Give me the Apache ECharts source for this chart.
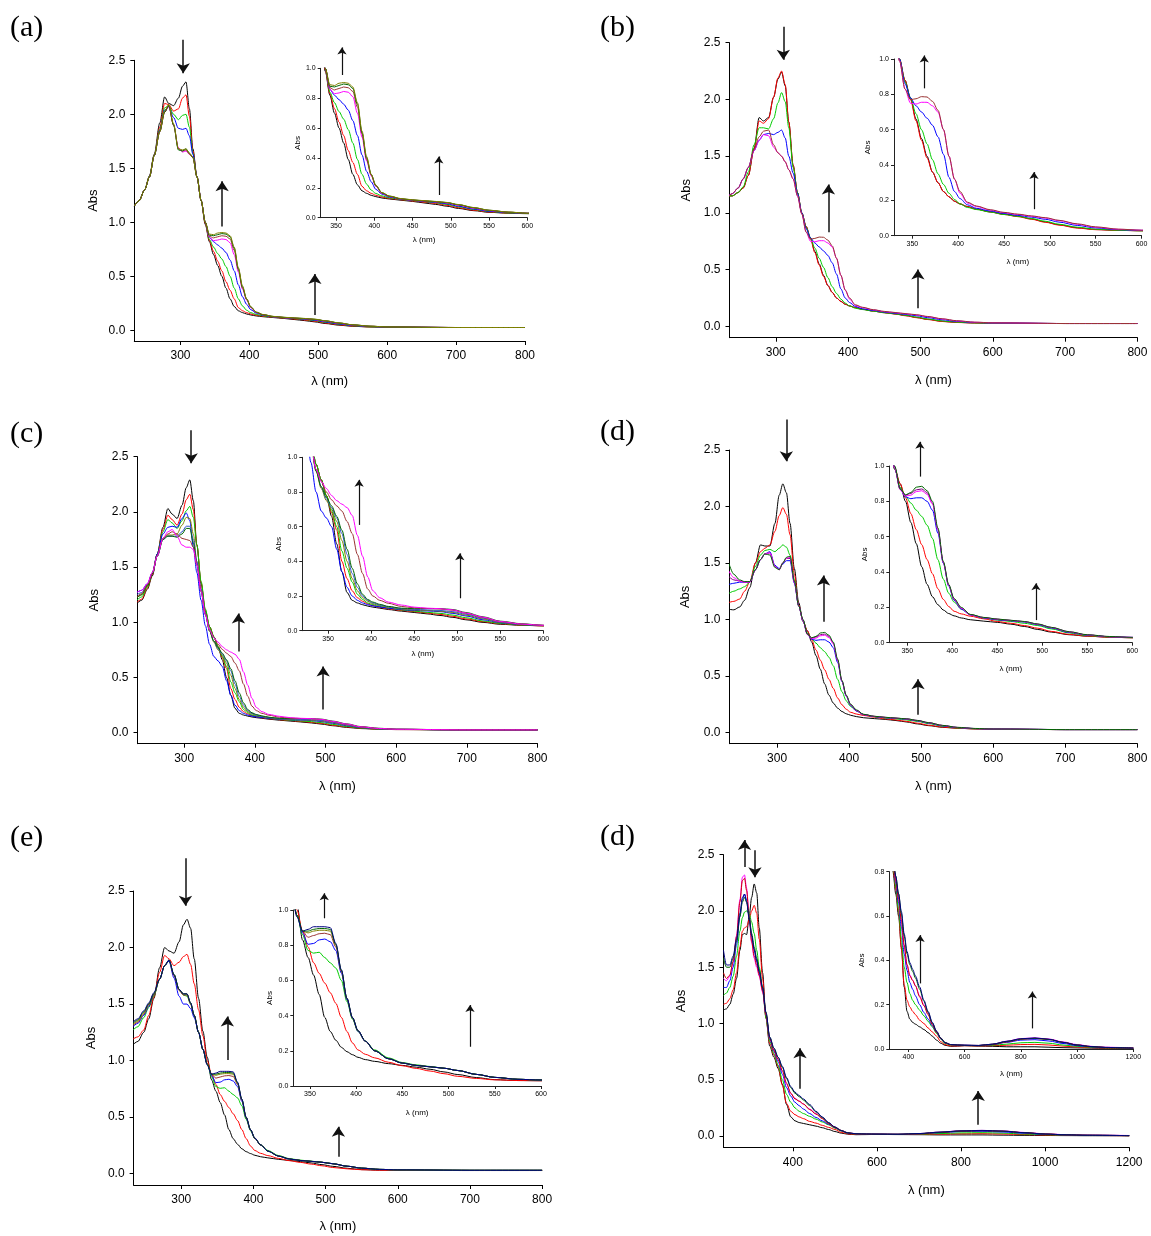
<!DOCTYPE html>
<html><head><meta charset="utf-8">
<script src="https://cdn.jsdelivr.net/npm/echarts@6/dist/echarts.min.js"></script>
<style>html,body{margin:0;padding:0;background:#fff}#c{width:1151px;height:1236px}</style>
</head><body><div id="c"></div>
<script>
// ---------- tick values ----------
const mainYTicks = [0, 0.5, 1, 1.5, 2, 2.5];
const mainXTicks = [300, 400, 500, 600, 700, 800];
const fMainXTicks = [400, 600, 800, 1000, 1200];
const insetYTicks = [0, 0.2, 0.4, 0.6, 0.8, 1.0];
const insetXTicks = [350, 400, 450, 500, 550, 600];
const fInsetYTicks = [0, 0.2, 0.4, 0.6, 0.8];
const fInsetXTicks = [400, 600, 800, 1000, 1200];

// ---------- wavelengths (nm) ----------
const wl = [233,240,248,255,262,270,277,283,290,297,303,308,313,318,324,330,336,342,348,354,360,366,372,378,384,390,396,402,410,420,435,450,465,480,495,510,530,550,575,600,700,800];
const wlF = [235,242,250,258,266,274,280,285,290,296,302,308,314,320,328,336,345,355,365,375,385,395,405,415,425,440,455,470,485,500,515,530,550,575,600,650,700,750,800,850,900,950,1000,1050,1100,1200];

// ---------- panel (a) ----------
const a_black   = [1.15,1.2,1.3,1.43,1.63,1.92,2.16,2.1,2.08,2.15,2.26,2.3,2.05,1.68,1.42,1.2,0.98,0.82,0.7,0.6,0.5,0.39,0.29,0.22,0.18,0.163,0.15,0.141,0.132,0.125,0.117,0.109,0.099,0.089,0.077,0.062,0.047,0.036,0.03,0.027,0.025,0.025];
const a_red     = [1.15,1.2,1.3,1.42,1.62,1.88,2.1,2.09,2.03,2.05,2.15,2.18,1.98,1.66,1.42,1.2,0.99,0.83,0.73,0.64,0.55,0.45,0.37,0.29,0.21,0.18,0.163,0.15,0.139,0.129,0.12,0.112,0.104,0.095,0.083,0.067,0.05,0.038,0.031,0.028,0.025,0.025];
const a_green   = [1.15,1.2,1.3,1.42,1.62,1.86,2.06,2.08,2.0,1.95,1.99,2.0,1.88,1.64,1.42,1.2,1.0,0.84,0.77,0.71,0.66,0.59,0.5,0.39,0.29,0.225,0.185,0.162,0.146,0.133,0.122,0.115,0.108,0.1,0.089,0.073,0.055,0.041,0.032,0.028,0.025,0.025];
const a_blue    = [1.15,1.2,1.3,1.42,1.62,1.85,2.04,2.07,1.97,1.87,1.86,1.87,1.8,1.63,1.42,1.2,1.0,0.86,0.82,0.79,0.76,0.72,0.65,0.55,0.42,0.31,0.24,0.19,0.158,0.138,0.124,0.116,0.109,0.103,0.093,0.077,0.058,0.043,0.034,0.029,0.025,0.025];
const a_magenta = [1.15,1.2,1.3,1.42,1.62,1.84,2.02,2.07,1.9,1.69,1.65,1.66,1.63,1.6,1.42,1.2,1.0,0.86,0.83,0.835,0.845,0.84,0.81,0.7,0.54,0.38,0.28,0.21,0.163,0.142,0.125,0.117,0.111,0.106,0.098,0.083,0.063,0.047,0.036,0.03,0.025,0.025];
const a_brown   = [1.15,1.2,1.3,1.42,1.62,1.84,2.02,2.08,1.9,1.68,1.66,1.67,1.63,1.6,1.42,1.2,1.0,0.87,0.855,0.865,0.875,0.87,0.845,0.74,0.56,0.39,0.285,0.213,0.165,0.143,0.126,0.118,0.112,0.107,0.1,0.086,0.066,0.049,0.037,0.03,0.025,0.025];
const a_dkgreen = [1.15,1.2,1.3,1.42,1.62,1.84,2.02,2.08,1.9,1.67,1.66,1.68,1.64,1.6,1.42,1.2,1.0,0.88,0.875,0.885,0.895,0.89,0.865,0.76,0.57,0.4,0.29,0.216,0.167,0.144,0.127,0.119,0.113,0.108,0.101,0.087,0.067,0.05,0.037,0.03,0.025,0.025];
const a_olive   = [1.15,1.2,1.3,1.42,1.62,1.84,2.03,2.09,1.91,1.68,1.67,1.68,1.64,1.6,1.42,1.2,1.0,0.89,0.885,0.9,0.905,0.9,0.875,0.77,0.58,0.41,0.29,0.218,0.168,0.145,0.128,0.12,0.114,0.109,0.102,0.088,0.068,0.05,0.038,0.03,0.025,0.025];

// ---------- panel (b) ----------
const b_black   = [1.15,1.15,1.18,1.22,1.33,1.57,1.84,1.81,1.84,2.02,2.18,2.24,2.12,1.8,1.42,1.18,1.0,0.88,0.78,0.66,0.55,0.45,0.36,0.3,0.25,0.22,0.195,0.18,0.165,0.15,0.135,0.122,0.11,0.095,0.078,0.062,0.045,0.035,0.03,0.028,0.025,0.025];
const b_red     = [1.15,1.15,1.18,1.22,1.33,1.56,1.81,1.79,1.83,2.02,2.19,2.25,2.13,1.8,1.42,1.18,1.0,0.88,0.77,0.65,0.54,0.44,0.36,0.3,0.25,0.22,0.195,0.18,0.165,0.15,0.134,0.12,0.108,0.093,0.076,0.06,0.043,0.034,0.03,0.028,0.025,0.025];
const b_green   = [1.15,1.15,1.18,1.23,1.36,1.6,1.75,1.75,1.74,1.83,1.97,2.06,1.98,1.75,1.4,1.18,1.0,0.87,0.78,0.69,0.6,0.52,0.43,0.35,0.29,0.24,0.205,0.18,0.16,0.148,0.134,0.12,0.11,0.097,0.082,0.065,0.048,0.037,0.031,0.028,0.025,0.025];
const b_blue    = [1.14,1.17,1.22,1.3,1.4,1.55,1.64,1.69,1.7,1.69,1.71,1.73,1.66,1.5,1.35,1.17,1.0,0.86,0.78,0.735,0.7,0.665,0.625,0.56,0.46,0.33,0.25,0.21,0.175,0.155,0.14,0.126,0.115,0.105,0.093,0.077,0.058,0.044,0.034,0.03,0.025,0.025];
const b_magenta = [1.14,1.17,1.22,1.3,1.4,1.55,1.64,1.69,1.68,1.58,1.53,1.5,1.45,1.38,1.3,1.15,0.99,0.83,0.75,0.745,0.755,0.755,0.735,0.7,0.6,0.45,0.32,0.24,0.185,0.165,0.145,0.13,0.12,0.11,0.1,0.085,0.065,0.048,0.036,0.031,0.025,0.025];
const b_brown   = [1.14,1.17,1.22,1.3,1.4,1.56,1.67,1.72,1.73,1.6,1.53,1.5,1.45,1.38,1.3,1.15,0.99,0.83,0.77,0.775,0.787,0.785,0.76,0.71,0.6,0.45,0.32,0.25,0.19,0.168,0.147,0.132,0.122,0.112,0.102,0.087,0.067,0.05,0.037,0.031,0.025,0.025];

// ---------- panel (c) ----------
const c_black   = [1.17,1.2,1.3,1.42,1.62,1.86,2.03,1.98,1.94,2.06,2.22,2.29,2.1,1.7,1.35,1.1,0.96,0.87,0.78,0.66,0.5,0.34,0.22,0.175,0.16,0.15,0.142,0.136,0.13,0.122,0.113,0.105,0.097,0.088,0.077,0.063,0.048,0.037,0.031,0.028,0.025,0.025];
const c_red     = [1.18,1.21,1.31,1.43,1.62,1.84,1.97,1.93,1.88,1.98,2.11,2.16,2.02,1.7,1.36,1.11,0.96,0.87,0.78,0.68,0.58,0.4,0.3,0.23,0.19,0.17,0.155,0.145,0.135,0.126,0.117,0.11,0.102,0.094,0.083,0.068,0.052,0.04,0.032,0.028,0.025,0.025];
const c_green   = [1.2,1.23,1.32,1.44,1.62,1.82,1.93,1.9,1.85,1.92,2.01,2.05,1.95,1.7,1.37,1.12,0.96,0.87,0.78,0.69,0.6,0.46,0.36,0.28,0.21,0.18,0.16,0.15,0.14,0.13,0.12,0.113,0.106,0.1,0.09,0.075,0.056,0.042,0.033,0.029,0.025,0.025];
const c_blue    = [1.27,1.29,1.35,1.45,1.62,1.8,1.86,1.87,1.86,1.94,1.99,1.92,1.68,1.45,1.2,0.97,0.8,0.69,0.65,0.6,0.47,0.34,0.25,0.2,0.175,0.16,0.15,0.143,0.137,0.13,0.122,0.117,0.114,0.11,0.1,0.085,0.063,0.046,0.035,0.03,0.025,0.025];
const c_olive   = [1.22,1.25,1.33,1.44,1.6,1.76,1.79,1.79,1.8,1.88,1.95,1.94,1.8,1.55,1.3,1.08,0.92,0.82,0.75,0.7,0.63,0.52,0.4,0.3,0.23,0.19,0.17,0.155,0.145,0.135,0.125,0.12,0.117,0.113,0.105,0.09,0.068,0.048,0.036,0.03,0.025,0.025];
const c_blue2   = [1.25,1.27,1.34,1.44,1.6,1.75,1.78,1.78,1.78,1.82,1.87,1.87,1.75,1.55,1.3,1.08,0.93,0.83,0.76,0.71,0.65,0.56,0.44,0.33,0.25,0.2,0.175,0.16,0.148,0.138,0.128,0.123,0.12,0.117,0.11,0.095,0.072,0.05,0.037,0.03,0.025,0.025];
const c_dkgreen = [1.22,1.25,1.33,1.44,1.6,1.75,1.78,1.78,1.77,1.8,1.85,1.85,1.72,1.52,1.28,1.07,0.92,0.83,0.77,0.72,0.66,0.58,0.47,0.36,0.27,0.21,0.18,0.165,0.152,0.14,0.13,0.127,0.128,0.128,0.122,0.105,0.08,0.055,0.04,0.031,0.025,0.025];
const c_brown   = [1.23,1.26,1.34,1.45,1.61,1.76,1.8,1.82,1.8,1.76,1.75,1.74,1.68,1.52,1.28,1.07,0.93,0.86,0.8,0.755,0.72,0.69,0.63,0.56,0.44,0.33,0.24,0.2,0.175,0.158,0.14,0.132,0.128,0.125,0.118,0.1,0.076,0.052,0.038,0.031,0.025,0.025];
const c_magenta = [1.27,1.29,1.35,1.45,1.6,1.76,1.82,1.84,1.78,1.7,1.68,1.68,1.66,1.52,1.28,1.07,0.93,0.86,0.82,0.78,0.75,0.73,0.71,0.665,0.55,0.43,0.31,0.23,0.19,0.165,0.148,0.136,0.13,0.127,0.12,0.102,0.078,0.053,0.038,0.031,0.025,0.025];

// ---------- panel (d) ----------
const d_black   = [1.09,1.085,1.11,1.17,1.28,1.5,1.66,1.65,1.65,1.85,2.1,2.2,2.12,1.85,1.45,1.15,0.98,0.9,0.8,0.68,0.56,0.43,0.33,0.26,0.215,0.185,0.165,0.152,0.14,0.13,0.122,0.115,0.105,0.092,0.075,0.06,0.045,0.037,0.031,0.028,0.025,0.025];
const d_red     = [1.15,1.16,1.18,1.25,1.33,1.5,1.6,1.63,1.66,1.78,1.92,1.99,1.93,1.75,1.4,1.13,0.99,0.9,0.82,0.73,0.64,0.555,0.47,0.39,0.305,0.245,0.205,0.178,0.163,0.15,0.135,0.12,0.11,0.097,0.082,0.064,0.047,0.037,0.031,0.028,0.025,0.025];
const d_green   = [1.23,1.25,1.27,1.29,1.33,1.47,1.57,1.61,1.62,1.6,1.63,1.66,1.64,1.57,1.35,1.12,0.99,0.88,0.83,0.79,0.75,0.715,0.665,0.59,0.47,0.36,0.28,0.23,0.19,0.16,0.14,0.128,0.12,0.11,0.097,0.078,0.055,0.04,0.033,0.029,0.025,0.025];
const d_blue    = [1.31,1.32,1.33,1.33,1.33,1.44,1.53,1.58,1.6,1.48,1.45,1.49,1.52,1.52,1.32,1.12,0.99,0.87,0.825,0.815,0.82,0.82,0.8,0.75,0.62,0.45,0.32,0.24,0.19,0.157,0.14,0.13,0.124,0.117,0.102,0.083,0.058,0.043,0.034,0.03,0.025,0.025];
const d_purple  = [1.38,1.35,1.34,1.33,1.33,1.44,1.53,1.58,1.59,1.47,1.44,1.5,1.54,1.54,1.33,1.12,0.99,0.87,0.835,0.845,0.865,0.87,0.85,0.79,0.64,0.455,0.325,0.245,0.195,0.158,0.142,0.133,0.126,0.119,0.105,0.086,0.061,0.044,0.034,0.03,0.025,0.025];
const d_magenta = [1.43,1.37,1.34,1.33,1.33,1.44,1.53,1.58,1.59,1.47,1.44,1.5,1.54,1.55,1.33,1.12,0.99,0.865,0.83,0.835,0.855,0.86,0.84,0.785,0.64,0.455,0.325,0.245,0.195,0.158,0.142,0.133,0.126,0.119,0.105,0.086,0.061,0.044,0.034,0.03,0.025,0.025];
const d_dkgreen = [1.5,1.4,1.35,1.335,1.335,1.44,1.53,1.58,1.57,1.46,1.44,1.5,1.55,1.56,1.34,1.12,1.0,0.87,0.837,0.85,0.88,0.885,0.86,0.8,0.65,0.46,0.33,0.25,0.2,0.16,0.143,0.134,0.127,0.12,0.106,0.087,0.062,0.045,0.035,0.03,0.025,0.025];

// ---------- panel (e) ----------
const e_black   = [1.14,1.17,1.25,1.37,1.55,1.82,2.0,1.97,1.95,2.05,2.2,2.25,2.17,1.9,1.55,1.26,1.03,0.83,0.73,0.63,0.52,0.39,0.31,0.26,0.22,0.195,0.178,0.163,0.15,0.14,0.127,0.117,0.107,0.095,0.08,0.065,0.048,0.036,0.031,0.03,0.028,0.028];
const e_red     = [1.19,1.21,1.27,1.4,1.56,1.78,1.93,1.9,1.84,1.87,1.92,1.94,1.85,1.68,1.45,1.22,1.0,0.88,0.79,0.7,0.64,0.585,0.53,0.47,0.39,0.31,0.245,0.205,0.18,0.16,0.135,0.115,0.1,0.085,0.07,0.055,0.043,0.035,0.031,0.03,0.028,0.028];
const e_green   = [1.27,1.3,1.38,1.47,1.57,1.72,1.84,1.88,1.76,1.63,1.58,1.57,1.5,1.4,1.25,1.1,0.97,0.86,0.77,0.755,0.76,0.73,0.7,0.67,0.6,0.48,0.38,0.31,0.255,0.205,0.16,0.133,0.12,0.111,0.101,0.088,0.066,0.049,0.038,0.034,0.03,0.03];
const e_blue    = [1.3,1.33,1.4,1.48,1.58,1.72,1.84,1.88,1.73,1.57,1.5,1.5,1.46,1.38,1.25,1.1,0.97,0.87,0.805,0.81,0.83,0.835,0.82,0.77,0.64,0.49,0.385,0.31,0.253,0.2,0.155,0.13,0.117,0.109,0.101,0.088,0.066,0.049,0.038,0.034,0.03,0.03];
const e_brown   = [1.31,1.34,1.41,1.49,1.58,1.72,1.84,1.89,1.75,1.62,1.58,1.58,1.5,1.4,1.25,1.1,0.97,0.88,0.845,0.855,0.865,0.868,0.86,0.79,0.65,0.495,0.387,0.312,0.254,0.2,0.155,0.13,0.117,0.109,0.101,0.088,0.066,0.049,0.038,0.034,0.03,0.03];
const e_olive   = [1.32,1.35,1.42,1.5,1.59,1.72,1.84,1.89,1.76,1.63,1.59,1.59,1.51,1.4,1.25,1.1,0.97,0.88,0.87,0.88,0.885,0.885,0.88,0.8,0.655,0.497,0.388,0.313,0.254,0.2,0.155,0.13,0.117,0.109,0.101,0.088,0.066,0.049,0.038,0.034,0.03,0.03];
const e_dkgreen = [1.33,1.36,1.43,1.5,1.59,1.72,1.84,1.89,1.76,1.63,1.59,1.59,1.51,1.4,1.25,1.1,0.97,0.88,0.88,0.89,0.895,0.895,0.89,0.805,0.658,0.498,0.389,0.314,0.255,0.2,0.155,0.13,0.117,0.109,0.101,0.088,0.066,0.049,0.038,0.034,0.03,0.03];
const e_navy    = [1.34,1.37,1.44,1.51,1.6,1.72,1.84,1.89,1.76,1.63,1.59,1.59,1.51,1.4,1.25,1.1,0.96,0.88,0.89,0.905,0.905,0.905,0.9,0.81,0.66,0.5,0.39,0.315,0.255,0.2,0.155,0.13,0.117,0.109,0.101,0.088,0.066,0.049,0.038,0.034,0.03,0.03];

// ---------- panel (d, NIR) ----------
const f_black   = [1.12,1.13,1.17,1.26,1.4,1.65,1.79,1.8,1.79,1.95,2.12,2.24,2.16,1.85,1.45,1.05,0.8,0.7,0.6,0.46,0.28,0.17,0.135,0.12,0.112,0.1,0.088,0.074,0.058,0.04,0.026,0.017,0.012,0.013,0.015,0.013,0.012,0.01,0.01,0.01,0.008,0.006,0.005,0.004,0.003,0.002];
const f_red     = [1.17,1.18,1.22,1.3,1.45,1.68,1.82,1.85,1.86,1.92,2.0,2.05,1.98,1.75,1.4,1.05,0.82,0.72,0.62,0.45,0.29,0.22,0.19,0.17,0.155,0.13,0.115,0.095,0.077,0.058,0.033,0.02,0.014,0.014,0.015,0.014,0.015,0.017,0.02,0.021,0.018,0.013,0.009,0.006,0.005,0.003];
const f_green   = [1.25,1.27,1.32,1.42,1.6,1.82,1.94,1.99,2.0,1.98,1.9,1.8,1.65,1.5,1.3,1.05,0.84,0.73,0.63,0.5,0.37,0.3,0.25,0.22,0.2,0.175,0.15,0.125,0.1,0.07,0.045,0.025,0.018,0.017,0.016,0.015,0.017,0.022,0.028,0.03,0.026,0.018,0.012,0.008,0.006,0.004];
const f_blue    = [1.32,1.32,1.38,1.5,1.7,1.95,2.1,2.15,2.1,1.95,1.78,1.65,1.55,1.45,1.3,1.08,0.86,0.75,0.66,0.55,0.43,0.355,0.3,0.27,0.24,0.2,0.165,0.135,0.105,0.075,0.048,0.028,0.02,0.018,0.017,0.015,0.02,0.03,0.04,0.042,0.036,0.025,0.015,0.01,0.007,0.004];
const f_magenta = [1.4,1.38,1.42,1.55,1.78,2.1,2.3,2.32,2.2,1.95,1.72,1.58,1.5,1.42,1.28,1.08,0.87,0.76,0.68,0.58,0.46,0.38,0.335,0.31,0.285,0.24,0.2,0.16,0.115,0.08,0.05,0.03,0.02,0.018,0.017,0.016,0.022,0.035,0.047,0.05,0.045,0.032,0.02,0.012,0.008,0.005];
const f_darkred = [1.45,1.4,1.43,1.55,1.77,2.08,2.27,2.29,2.18,1.95,1.73,1.6,1.52,1.43,1.29,1.08,0.87,0.76,0.68,0.58,0.47,0.38,0.33,0.31,0.285,0.235,0.195,0.155,0.11,0.075,0.048,0.028,0.019,0.017,0.016,0.015,0.02,0.032,0.044,0.048,0.043,0.03,0.018,0.011,0.007,0.004];
const f_dkgreen = [1.58,1.5,1.5,1.58,1.73,1.95,2.08,2.12,2.08,1.95,1.8,1.68,1.58,1.48,1.32,1.1,0.88,0.78,0.7,0.61,0.51,0.43,0.38,0.35,0.32,0.27,0.215,0.165,0.118,0.08,0.05,0.03,0.02,0.018,0.017,0.016,0.022,0.034,0.045,0.048,0.043,0.03,0.018,0.011,0.007,0.004];
const f_navy    = [1.65,1.52,1.52,1.6,1.75,1.98,2.12,2.15,2.08,1.93,1.78,1.66,1.56,1.46,1.32,1.1,0.88,0.78,0.7,0.62,0.52,0.44,0.39,0.36,0.33,0.28,0.22,0.17,0.12,0.08,0.048,0.028,0.02,0.018,0.017,0.016,0.022,0.035,0.046,0.05,0.044,0.03,0.018,0.011,0.007,0.004];

// ---------- arrows: [x, yFrom, yTo] ----------
const a_arrows = [[304, 2.69, 2.38], [360.5, 0.96, 1.38], [495, 0.14, 0.52]];
const a_insetArrows = [[357.8, 0.955, 1.14], [484.3, 0.152, 0.41]];
const b_arrows = [[310.4, 2.64, 2.35], [372.8, 0.83, 1.25], [496.5, 0.16, 0.5]];
const b_insetArrows = [[363, 0.834, 1.02], [482.7, 0.15, 0.36]];
const c_arrows = [[310, 2.74, 2.44], [376.8, 0.736, 1.08], [496.7, 0.21, 0.6]];
const c_insetArrows = [[386, 0.61, 0.87], [503, 0.187, 0.446]];
const d_arrows = [[312.9, 2.77, 2.4], [364.5, 0.98, 1.39], [495.6, 0.156, 0.47]];
const d_insetArrows = [[364, 0.94, 1.137], [493, 0.128, 0.336]];
const e_arrows = [[305.9, 2.79, 2.37], [363.9, 1.005, 1.39], [517.8, 0.15, 0.416]];
const e_insetArrows = [[365.5, 0.953, 1.095], [523.2, 0.223, 0.46]];
const f_arrows = [[285, 2.39, 2.63], [309.8, 2.54, 2.3], [417, 0.42, 0.78], [840.9, 0.1, 0.4]];
const f_insetArrows = [[441.5, 0.296, 0.514], [840.9, 0.093, 0.259]];

// ---------- styling ----------
const COL = {black:'#000000', red:'#ff0000', green:'#00cc00', blue:'#0000ff', magenta:'#ff00ff',
  brown:'#993333', olive:'#808000', dkgreen:'#006600', navy:'#000080', purple:'#800080',
  blue2:'#3355cc', darkred:'#cc0000'};

const panels = [
  {label:'(a)', lx:10, ly:28, wl:wl,
   lines:[[COL.black,a_black],[COL.red,a_red],[COL.green,a_green],[COL.blue,a_blue],[COL.magenta,a_magenta],[COL.brown,a_brown],[COL.dkgreen,a_dkgreen],[COL.olive,a_olive]],
   main:{left:134.3, top:60.3, width:390.7, height:280.7, xMin:233, xMax:800, xTicks:mainXTicks, yMin:-0.1, yMax:2.5, yTicks:mainYTicks, gy:34, gx:34, arrows:a_arrows},
   inset:{left:320.7, top:68.3, width:206.6, height:149.4, xMin:330, xMax:600, xTicks:insetXTicks, yMin:0, yMax:1, yTicks:insetYTicks, gy:18.5, gx:17.6, arrows:a_insetArrows}},
  {label:'(b)', lx:600, ly:28, wl:wl,
   lines:[[COL.black,b_black],[COL.red,b_red],[COL.green,b_green],[COL.blue,b_blue],[COL.magenta,b_magenta],[COL.brown,b_brown]],
   main:{left:729.5, top:42.7, width:407.9, height:295, xMin:236, xMax:800, xTicks:mainXTicks, yMin:-0.1, yMax:2.5, yTicks:mainYTicks, gy:36.4, gx:35.8, arrows:b_arrows},
   inset:{left:894, top:59, width:247.5, height:176.7, xMin:330, xMax:600, xTicks:insetXTicks, yMin:0, yMax:1, yTicks:insetYTicks, gy:22.7, gx:22, arrows:b_insetArrows}},
  {label:'(c)', lx:10, ly:434, wl:wl,
   lines:[[COL.black,c_black],[COL.red,c_red],[COL.green,c_green],[COL.blue,c_blue],[COL.olive,c_olive],[COL.blue2,c_blue2],[COL.dkgreen,c_dkgreen],[COL.brown,c_brown],[COL.magenta,c_magenta]],
   main:{left:137.5, top:456.7, width:400, height:287, xMin:234, xMax:800, xTicks:mainXTicks, yMin:-0.1, yMax:2.5, yTicks:mainYTicks, gy:36.4, gx:35.8, arrows:c_arrows},
   inset:{left:302.3, top:457.3, width:241, height:173.4, xMin:320, xMax:600, xTicks:insetXTicks, yMin:0, yMax:1, yTicks:insetYTicks, gy:20, gx:18.6, arrows:c_insetArrows}},
  {label:'(d)', lx:600, ly:432, wl:wl,
   lines:[[COL.black,d_black],[COL.red,d_red],[COL.green,d_green],[COL.blue,d_blue],[COL.purple,d_purple],[COL.magenta,d_magenta],[COL.dkgreen,d_dkgreen]],
   main:{left:729.5, top:450, width:407.9, height:293.7, xMin:234, xMax:800, xTicks:mainXTicks, yMin:-0.1, yMax:2.5, yTicks:mainYTicks, gy:37.1, gx:36.5, arrows:d_arrows},
   inset:{left:889.3, top:466, width:243, height:176.7, xMin:330, xMax:600, xTicks:insetXTicks, yMin:0, yMax:1, yTicks:insetYTicks, gy:20.3, gx:21.6, arrows:d_insetArrows}},
  {label:'(e)', lx:10, ly:838, wl:wl,
   lines:[[COL.black,e_black],[COL.red,e_red],[COL.green,e_green],[COL.blue,e_blue],[COL.brown,e_brown],[COL.olive,e_olive],[COL.dkgreen,e_dkgreen],[COL.navy,e_navy]],
   main:{left:133.6, top:891, width:408.5, height:294, xMin:234, xMax:800, xTicks:mainXTicks, yMin:-0.1, yMax:2.5, yTicks:mainYTicks, gy:36.1, gx:35.2, arrows:e_arrows},
   inset:{left:293.3, top:910, width:247.7, height:176, xMin:332, xMax:600, xTicks:insetXTicks, yMin:0, yMax:1, yTicks:insetYTicks, gy:19.3, gx:22.3, arrows:e_insetArrows}},
  {label:'(d)', lx:600, ly:837, wl:wlF,
   lines:[[COL.black,f_black],[COL.red,f_red],[COL.green,f_green],[COL.blue,f_blue],[COL.magenta,f_magenta],[COL.darkred,f_darkred],[COL.dkgreen,f_dkgreen],[COL.navy,f_navy]],
   main:{left:723.5, top:854.7, width:405.7, height:292.6, xMin:235, xMax:1200, xTicks:fMainXTicks, yMin:-0.1, yMax:2.5, yTicks:mainYTicks, gy:35.8, gx:36.2, arrows:f_arrows},
   inset:{left:889.3, top:871.7, width:244, height:177.3, xMin:332, xMax:1200, xTicks:fInsetXTicks, yMin:0, yMax:0.8, yTicks:fInsetYTicks, gy:23.6, gx:20.3, arrows:f_insetArrows}}
];

const FONT = 'Liberation Sans, Arial, sans-serif';
const grid = [], xAxis = [], yAxis = [], series = [], graphic = [];

panels.forEach(p => {
  [['main', p.main], ['inset', p.inset]].forEach(([kind, g]) => {
    const idx = grid.length;
    const isMain = kind === 'main';
    const lblSize = isMain ? 12 : 7;
    const nameSize = isMain ? 13 : 8;
    const axCol = isMain ? '#000' : '#222';
    grid.push({left: g.left, top: g.top, width: g.width, height: g.height});
    xAxis.push({
      gridIndex: idx, type: 'value', min: g.xMin, max: g.xMax,
      name: 'λ (nm)', nameLocation: 'middle', nameGap: g.gx,
      nameTextStyle: {fontSize: nameSize, fontFamily: FONT, color: '#000'},
      axisLine: {show: true, onZero: false, lineStyle: {color: axCol, width: 1}},
      axisTick: {show: true, inside: false, length: isMain ? 4 : 3, customValues: g.xTicks, lineStyle: {color: axCol, width: 1}},
      axisLabel: {customValues: g.xTicks, margin: isMain ? 9 : 5, fontSize: lblSize, fontFamily: FONT, color: '#000',
                  formatter: v => String(Math.round(v))},
      splitLine: {show: false}
    });
    yAxis.push({
      gridIndex: idx, type: 'value', min: g.yMin, max: g.yMax,
      name: 'Abs', nameLocation: 'middle', nameGap: g.gy,
      nameTextStyle: {fontSize: nameSize, fontFamily: FONT, color: '#000'},
      axisLine: {show: true, onZero: false, lineStyle: {color: axCol, width: 1}},
      axisTick: {show: true, inside: false, length: isMain ? 4 : 3, customValues: g.yTicks, lineStyle: {color: axCol, width: 1}},
      axisLabel: {customValues: g.yTicks, margin: isMain ? 9 : 5, fontSize: lblSize, fontFamily: FONT, color: '#000',
                  formatter: v => v.toFixed(1)},
      splitLine: {show: false}
    });
    p.lines.forEach(([color, vals]) => {
      series.push({
        type: 'line', xAxisIndex: idx, yAxisIndex: idx,
        data: p.wl.map((x, i) => [x, vals[i]]),
        showSymbol: false, symbol: 'none', smooth: 0.3, smoothMonotone: 'x',
        lineStyle: {color: color, width: 1}, itemStyle: {color: color},
        silent: true, animation: false, clip: true, z: 2
      });
    });
    series.push({
      type: 'lines', coordinateSystem: 'cartesian2d', xAxisIndex: idx, yAxisIndex: idx,
      clip: false, polyline: false,
      symbol: ['none', 'arrow'], symbolSize: isMain ? 10 : 7,
      lineStyle: {color: '#111', width: isMain ? 1.5 : 1.2, opacity: 1, curveness: 0},
      data: g.arrows.map(a => ({coords: [[a[0], a[1]], [a[0], a[2]]]})),
      silent: true, animation: false, z: 5
    });
  });
  graphic.push({type: 'text', x: p.lx, y: p.ly,
    style: {text: p.label, font: '30px "Liberation Serif", "Times New Roman", serif', fill: '#000', verticalAlign: 'middle'}});
});

const chart = echarts.init(document.getElementById('c'), null, {renderer: 'canvas'});
chart.setOption({animation: false, backgroundColor: '#fff', grid, xAxis, yAxis, series, graphic});
</script>
</body></html>
